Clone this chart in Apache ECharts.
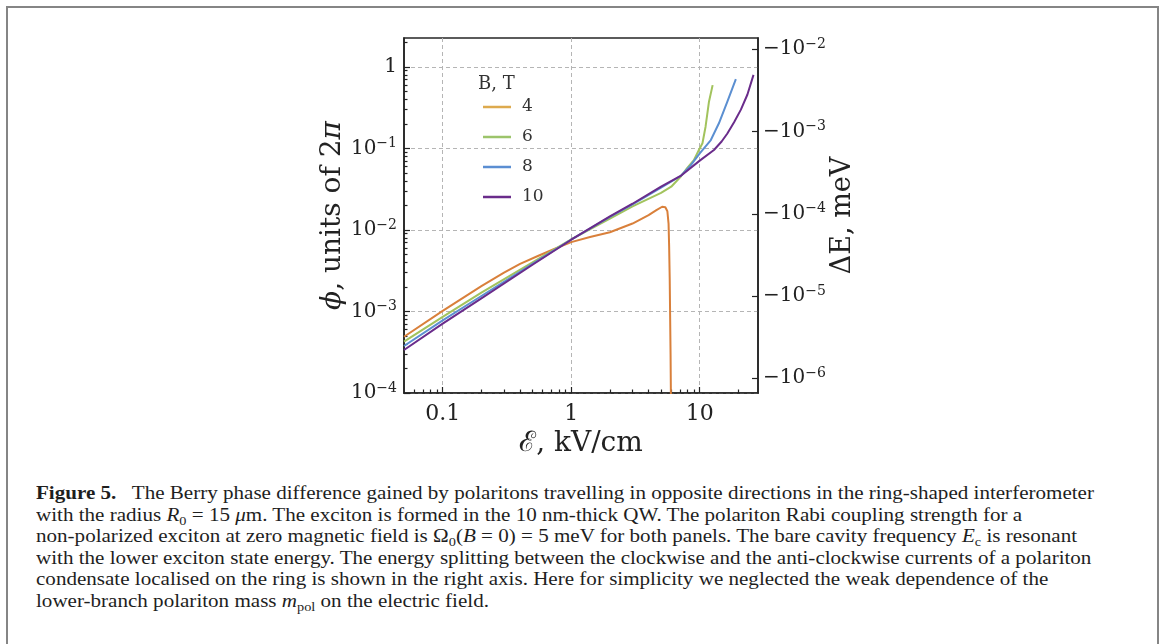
<!DOCTYPE html>
<html><head><meta charset="utf-8">
<script src="https://cdn.jsdelivr.net/npm/echarts@6/dist/echarts.min.js"></script>
<style>
html,body{margin:0;padding:0;background:#fff;}
#frame{position:absolute;left:6px;top:6px;width:1153px;height:720px;border:2px solid #858585;box-sizing:border-box;}
#chart{position:absolute;left:0;top:0;width:1163px;height:470px;}
#cap{position:absolute;left:36px;top:482px;font-family:'Liberation Serif',serif;font-size:19.2px;line-height:21.5px;color:#1e1e1e;white-space:nowrap;transform-origin:0 0;}
#cap sub{font-size:0.68em;line-height:0;vertical-align:-0.28em;}
</style></head><body>
<div id="frame"></div>
<div id="chart"></div>
<div id="cap">
<div><span id="l1"><b>Figure 5.</b>&nbsp;&nbsp; The Berry phase difference gained by polaritons travelling in opposite directions in the ring-shaped interferometer</span></div>
<div>with the radius <i>R</i><sub>0</sub> = 15 <i>μ</i>m. The exciton is formed in the 10 nm-thick QW. The polariton Rabi coupling strength for a</div>
<div>non-polarized exciton at zero magnetic field is Ω<sub>0</sub>(<i>B</i> = 0) = 5 meV for both panels. The bare cavity frequency <i>E</i><sub>c</sub> is resonant</div>
<div>with the lower exciton state energy. The energy splitting between the clockwise and the anti-clockwise currents of a polariton</div>
<div>condensate localised on the ring is shown in the right axis. Here for simplicity we neglected the weak dependence of the</div>
<div>lower-branch polariton mass <i>m</i><sub>pol</sub> on the electric field.</div>
</div>
<script>
// ---- data ----
const legendTitle = 'B, T';
const seriesNames = ['4', '6', '8', '10'];

const field4 = [0.05, 0.1, 0.2, 0.3, 0.4, 0.55, 0.73, 1.0, 1.4, 2.0, 3.0, 4.0, 4.6, 5.1, 5.4, 5.6, 5.72, 5.78, 5.84, 5.88, 5.93, 5.96, 6.0];
const phase4 = [4.9e-4, 1.02e-3, 2.05e-3, 3.0e-3, 3.85e-3, 4.8e-3, 5.8e-3, 7.1e-3, 8.2e-3, 9.4e-3, 1.2e-2, 1.52e-2, 1.75e-2, 1.93e-2, 1.9e-2, 1.7e-2, 1.2e-2, 6.3e-3, 2.5e-3, 9.5e-4, 3e-4, 1.1e-4, 5e-5];

const field6 = [0.05, 0.1, 0.2, 0.5, 1.0, 2.0, 3.0, 5.0, 6.0, 7.1, 8.0, 9.0, 9.85, 10.5, 11.1, 11.8, 12.6];
const phase6 = [4.26e-4, 8.6e-4, 1.7e-3, 4.0e-3, 7.7e-3, 1.38e-2, 1.95e-2, 2.85e-2, 3.4e-2, 4.5e-2, 5.8e-2, 7.2e-2, 9.6e-2, 0.116, 0.185, 0.375, 0.60];

const field8 = [0.05, 0.1, 0.2, 0.5, 1.0, 2.0, 3.0, 5.0, 7.1, 8.5, 10.0, 12.2, 14.1, 16.4, 19.1];
const phase8 = [3.77e-4, 7.8e-4, 1.55e-3, 3.85e-3, 7.6e-3, 1.45e-2, 2.07e-2, 3.3e-2, 4.6e-2, 6.2e-2, 8.7e-2, 0.127, 0.204, 0.375, 0.71];

const field10 = [0.05, 0.1, 0.2, 0.5, 1.0, 2.0, 3.0, 5.0, 7.1, 10.0, 12.9, 14.8, 16.4, 18.5, 20.9, 23.5, 26.2];
const phase10 = [3.37e-4, 7.1e-4, 1.45e-3, 3.75e-3, 7.6e-3, 1.47e-2, 2.1e-2, 3.4e-2, 4.6e-2, 7.1e-2, 9.6e-2, 0.122, 0.153, 0.21, 0.30, 0.46, 0.80];

const xMajorTicks = [0.1, 1, 10];
const xMinorTicks = [0.06, 0.07, 0.08, 0.09, 0.2, 0.3, 0.4, 0.5, 0.6, 0.7, 0.8, 0.9, 2, 3, 4, 5, 6, 7, 8, 9, 20];
const yMajorTicks = [1e-4, 1e-3, 1e-2, 1e-1, 1];
const yMinorTicks = [2e-4,3e-4,4e-4,5e-4,6e-4,7e-4,8e-4,9e-4,2e-3,3e-3,4e-3,5e-3,6e-3,7e-3,8e-3,9e-3,2e-2,3e-2,4e-2,5e-2,6e-2,7e-2,8e-2,9e-2,0.2,0.3,0.4,0.5,0.6,0.7,0.8,0.9,2];
const rightTicks = [1e-6, 1e-5, 1e-4, 1e-3, 1e-2];

const lineColors = ['#d9803b', '#a2c35d', '#5b8fd1', '#6a2c8b'];
const legendColors = ['#ddaa4e', '#9cc46b', '#5b8ed2', '#6a2c8b'];

// ---- chart ----
const SERIF = "'DejaVu Serif', serif";
const INK = '#222';
function pairs(xs, ys) { return xs.map((x, i) => [x, ys[i]]); }
const allData = [pairs(field4, phase4), pairs(field6, phase6), pairs(field8, phase8), pairs(field10, phase10)];

function expOf(v) { return Math.round(Math.log10(v)); }
const rich = {
  b: { fontFamily: SERIF, fontSize: 20, lineHeight: 24, color: INK },
  s: { fontFamily: SERIF, fontSize: 14, lineHeight: 14, verticalAlign: 'top', color: INK },
  i: { fontFamily: SERIF, fontSize: 28, fontStyle: 'italic', color: INK },
  n: { fontFamily: SERIF, fontSize: 28, color: INK }
};

const chart = echarts.init(document.getElementById('chart'), null, { renderer: 'canvas' });
chart.setOption({
  animation: false,
  backgroundColor: 'transparent',
  title: {
    text: legendTitle, left: 478, top: 75, padding: 0,
    textStyle: { fontFamily: SERIF, fontSize: 18, fontWeight: 'normal', color: '#333' }
  },
  legend: {
    orient: 'vertical', left: 483, top: 97, padding: 0,
    icon: 'rect', itemWidth: 28, itemHeight: 2.5, itemGap: 10,
    textStyle: { fontFamily: SERIF, fontSize: 17, color: '#333', lineHeight: 20, padding: [0, 0, 0, 6] },
    data: seriesNames.map((n, i) => ({ name: n, itemStyle: { color: legendColors[i] } }))
  },
  grid: { left: 404, top: 38, width: 354, height: 355, show: true, borderColor: '#262626', borderWidth: 1.6, containLabel: false },
  xAxis: [
    {
      type: 'log', logBase: 10, min: 0.05, max: 28.4, position: 'bottom',
      name: 'ℰ, kV/cm', nameLocation: 'middle', nameGap: 36,
      nameTextStyle: { fontFamily: SERIF, fontSize: 28, color: INK },
      axisLine: { show: true, lineStyle: { color: '#262626', width: 1.6 } },
      axisTick: { show: true, inside: true, length: 6, customValues: xMajorTicks, lineStyle: { color: INK, width: 1.2 } },
      axisLabel: { show: true, margin: 10, customValues: xMajorTicks, fontFamily: SERIF, fontSize: 22, color: INK,
        formatter: v => String(+v.toPrecision(3)) },
      splitLine: { show: true, lineStyle: { color: '#b5b5b5', type: [4, 3], width: 1 } },
      minorTick: { show: false }
    },
    {
      type: 'log', logBase: 10, min: 0.05, max: 28.4, position: 'bottom',
      axisLine: { show: false },
      axisTick: { show: true, inside: true, length: 3.5, customValues: xMinorTicks, lineStyle: { color: INK, width: 1.2 } },
      axisLabel: { show: false },
      splitLine: { show: false }
    }
  ],
  yAxis: [
    {
      type: 'log', logBase: 10, min: 1e-4, max: 2.27, position: 'left',
      name: '{i|ϕ}{n|, units of 2}{i|π}', nameLocation: 'middle', nameGap: 45,
      nameTextStyle: { rich: rich },
      axisLine: { show: true, lineStyle: { color: '#262626', width: 1.6 } },
      axisTick: { show: true, inside: true, length: 6, customValues: yMajorTicks, lineStyle: { color: INK, width: 1.2 } },
      axisLabel: { show: true, margin: 7, customValues: yMajorTicks, rich: rich,
        formatter: v => { const e = expOf(v); return e === 0 ? '{b|1}' : '{b|10}{s|−' + (-e) + '}'; } },
      splitLine: { show: true, lineStyle: { color: '#b5b5b5', type: [4, 3], width: 1 } }
    },
    {
      type: 'log', logBase: 10, min: 6.62e-7, max: 1.371e-2, position: 'right',
      name: 'ΔE, meV', nameLocation: 'middle', nameGap: 56,
      nameTextStyle: { fontFamily: SERIF, fontSize: 27, color: INK },
      axisLine: { show: true, lineStyle: { color: '#262626', width: 1.6 } },
      axisTick: { show: true, inside: true, length: 6, customValues: rightTicks, lineStyle: { color: INK, width: 1.2 } },
      axisLabel: { show: true, margin: 5, customValues: rightTicks, rich: rich,
        formatter: v => '{b|−10}{s|−' + (-expOf(v)) + '}' },
      splitLine: { show: false }
    },
    {
      type: 'log', logBase: 10, min: 1e-4, max: 2.27, position: 'left',
      axisLine: { show: false },
      axisTick: { show: true, inside: true, length: 3.5, customValues: yMinorTicks, lineStyle: { color: INK, width: 1.2 } },
      axisLabel: { show: false },
      splitLine: { show: false }
    }
  ],
  series: seriesNames.map((n, i) => ({
    name: n, type: 'line', xAxisIndex: 0, yAxisIndex: 0,
    data: allData[i], showSymbol: false, symbol: 'none', smooth: false, clip: true,
    lineStyle: { color: lineColors[i], width: 2, join: 'round' }, itemStyle: { color: legendColors[i] },
    z: 2 + i
  }))
});

// condense the caption horizontally so the first line spans the reference width
(function () {
  const cap = document.getElementById('cap');
  const l1 = document.getElementById('l1');
  const target = 1058;
  const w = l1.getBoundingClientRect().width;
  if (w > 0) cap.style.transform = 'scaleX(' + (target / w).toFixed(4) + ')';
})();
</script>
</body></html>
